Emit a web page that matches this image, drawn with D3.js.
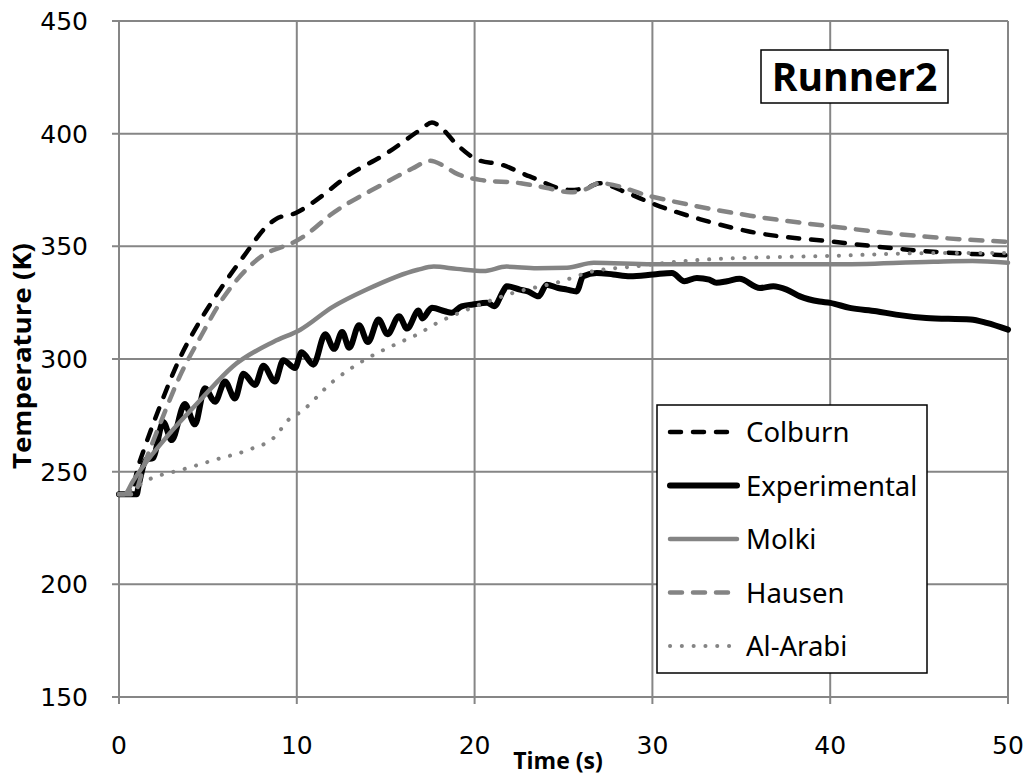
<!DOCTYPE html>
<html>
<head>
<meta charset="utf-8">
<script src="https://cdn.jsdelivr.net/npm/d3@7"></script>
<style>
body { margin: 0; background: #fff; }
svg { display: block; }
</style>
</head>
<body>
<div class="chart"></div>
<script>
// values, [time s, temperature K]
var colburn = [[0,240],[0.7,240],[1.0,250],[1.5,262],[2.3,279],[3.4,300],[4.6,317.5],[5.7,331],[7.2,347.6],[8.2,358],[8.8,362],[10,365],[11,370],[13,382],[15,391],[17,402],[17.6,405],[18.2,402],[18.9,396],[20.3,388],[21.4,386.5],[23.1,381],[25.4,375],[26.5,376.5],[27,378],[28.5,374],[30,369],[32.7,362],[35.5,356.5],[40.2,352],[45.8,347.6],[50,346]];
var experimental = [[0,240],[1.0,240],[1.1,243.7],[1.56,255.5],[1.9,256],[2.49,272],[2.96,264],[3.7,280],[4.27,271],[4.83,287],[5.4,281],[5.96,290],[6.52,282.5],[7.0,293.5],[7.65,288.5],[8.12,297],[8.77,290],[9.24,299.5],[9.9,296],[10.27,303],[10.93,297.5],[11.6,311],[12.1,304.5],[12.55,312],[12.95,305],[13.5,315],[14.0,307.5],[14.6,317.5],[15.1,311],[15.75,319],[16.2,313.5],[16.85,321.5],[17.05,318],[17.6,322.7],[18.33,321.2],[18.7,320.5],[19.27,323.4],[19.9,324.2],[20.7,325],[21.1,323.4],[21.6,330],[21.8,332.3],[22.55,330.8],[23.0,330],[23.6,327.8],[24.05,333],[24.7,331.5],[25.2,330.8],[25.74,330],[26.1,336.7],[26.87,338.2],[27.8,337.5],[28.74,336.7],[30.05,337.5],[31.1,338.2],[31.8,334.5],[32.5,336],[33.2,335.2],[33.6,333.8],[34.2,334.5],[34.9,335.6],[36.05,331.5],[36.8,332.3],[37.55,330.8],[38.3,327.8],[39.4,325.5],[40.0,324.9],[41.1,322.7],[42.6,321.2],[43.7,319.7],[45.4,318.2],[47.9,317.5],[48.8,316],[50,313]];
var molki = [[0,240],[0.3,240],[0.8,246],[1.35,252.3],[2.7,265.6],[4.6,282],[6.4,296.7],[8.7,307.7],[10.2,313],[12,323],[13.9,330.7],[16.8,339.6],[17.7,341],[19,340],[20.5,339],[21.8,341],[23.5,340.3],[25.2,340.5],[26.7,342.7],[30,342],[32.7,342],[40.2,342],[45.8,343.2],[48,343.5],[50,342.7]];
var hausen = [[0,240],[0.8,240],[1.5,255],[2.4,273],[3.4,292],[4.6,310],[5.8,326.4],[7.2,340],[8.3,347],[9.1,349.5],[9.8,351.7],[10.5,355],[11.9,364],[14.7,377],[16.5,384.5],[17.5,388],[18.2,386],[18.9,382.6],[20.3,379.5],[22.6,378],[24,376],[25.4,374],[26.3,375.5],[27,378],[30,372],[35.5,363.6],[40.2,358.7],[45.8,354],[50,352]];
var alArabi = [[0,240],[0.7,242],[1.7,246.6],[3.6,251],[5.5,255.5],[7.4,260],[8.7,265],[9.6,273.5],[10.2,276.4],[12,289.8],[13.9,300],[15.8,307.4],[16.8,311],[17.9,316],[19.7,322.3],[22.2,329.4],[24.8,334.3],[26.7,339],[28.9,341],[32.7,344],[40.2,345.8],[45.8,347],[50,347]];

var seriesNames = ["Colburn","Experimental","Molki","Hausen","Al-Arabi"];
var xTicks = [0,10,20,30,40,50];
var yTicks = [150,200,250,300,350,400,450];

var styles = {
	"Colburn":      {data: colburn, color: "#000", width: 4.5, dash: "11,12", cap: "round"},
	"Experimental": {data: experimental, color: "#000", width: 6, dash: null, cap: "round"},
	"Molki":        {data: molki, color: "#848484", width: 4.5, dash: null, cap: "round"},
	"Hausen":       {data: hausen, color: "#848484", width: 4.5, dash: "12,11", cap: "round"},
	"Al-Arabi":     {data: alArabi, color: "#848484", width: 4, dash: "0.1,11.7", cap: "round"}
}

var width = 1027, height = 775
var plotLeft = 119, plotRight = 1008, plotTop = 21, plotBottom = 697
var svg = d3.select(".chart").append("svg").attr("width",width).attr("height",height)

var x = d3.scaleLinear().domain([0,50]).range([plotLeft,plotRight])
var y = d3.scaleLinear().domain([150,450]).range([plotBottom,plotTop])
var grid = "#868686"

// gridlines
svg.append("g").selectAll("line").data(yTicks).enter().append("line")
	.attr("x1",plotLeft-7).attr("x2",plotRight)
	.attr("y1",function(d){return y(d)}).attr("y2",function(d){return y(d)})
	.attr("stroke",grid).attr("stroke-width",2)
svg.append("g").selectAll("line").data(xTicks).enter().append("line")
	.attr("x1",function(d){return x(d)}).attr("x2",function(d){return x(d)})
	.attr("y1",plotTop).attr("y2",plotBottom+7)
	.attr("stroke",grid).attr("stroke-width",2)

// tick labels
svg.append("g").selectAll("text").data(yTicks).enter().append("text")
	.text(function(d){return d})
	.attr("x",88).attr("y",function(d){return y(d)+9})
	.attr("text-anchor","end")
	.style("font-family","DejaVu Sans").style("font-size","25px").attr("fill","#000")
svg.append("g").selectAll("text").data(xTicks).enter().append("text")
	.text(function(d){return d})
	.attr("x",function(d){return x(d)}).attr("y",754)
	.attr("text-anchor","middle")
	.style("font-family","DejaVu Sans").style("font-size","25px").attr("fill","#000")

// axis titles
svg.append("text").text("Time (s)")
	.attr("x",558).attr("y",769).attr("text-anchor","middle")
	.style("font-family","Open Sans").style("font-weight","bold").style("font-size","23px")
svg.append("text").text("Temperature (K)")
	.attr("transform","translate(31,356) rotate(-90)").attr("text-anchor","middle")
	.attr("textLength",226).attr("lengthAdjust","spacingAndGlyphs")
	.style("font-family","Open Sans").style("font-weight","bold").style("font-size","25px")

// series
var line = d3.line().x(function(d){return x(d[0])}).y(function(d){return y(d[1])}).curve(d3.curveMonotoneX)
var linesG = svg.append("g").attr("class","series")
seriesNames.forEach(function(name){
	var s = styles[name]
	linesG.append("path").datum(s.data)
	.attr("d",line)
	.attr("fill","none")
	.attr("stroke",s.color)
	.attr("stroke-width",s.width)
	.attr("stroke-linejoin","round")
	.attr("stroke-linecap",s.cap)
	.attr("stroke-dasharray",s.dash)
})

// title box
svg.append("rect").attr("x",761).attr("y",50).attr("width",187).attr("height",53)
	.attr("fill","#fff").attr("stroke","#000").attr("stroke-width",1.5)
svg.append("text").text("Runner2")
	.attr("x",854.5).attr("y",91).attr("text-anchor","middle")
	.style("font-family","Open Sans").style("font-weight","bold").style("font-size","39px")

// legend
var legend = svg.append("g").attr("class","legend")
legend.append("rect").attr("x",657).attr("y",405).attr("width",270).attr("height",268)
	.attr("fill","#fff").attr("stroke","#000").attr("stroke-width",1.5)
var legendY = d3.scalePoint().domain(seriesNames).range([432,646])
seriesNames.forEach(function(name){
	var s = styles[name]
	var ly = legendY(name)
	legend.append("line").attr("x1",670).attr("x2",737).attr("y1",ly).attr("y2",ly)
	.attr("stroke",s.color).attr("stroke-width",s.width)
	.attr("stroke-linecap",s.cap).attr("stroke-dasharray",s.dash)
	legend.append("text").text(name).attr("x",746).attr("y",ly+10)
	.style("font-family","Noto Sans").style("font-size","27.5px").attr("fill","#000")
})
</script>
</body>
</html>
